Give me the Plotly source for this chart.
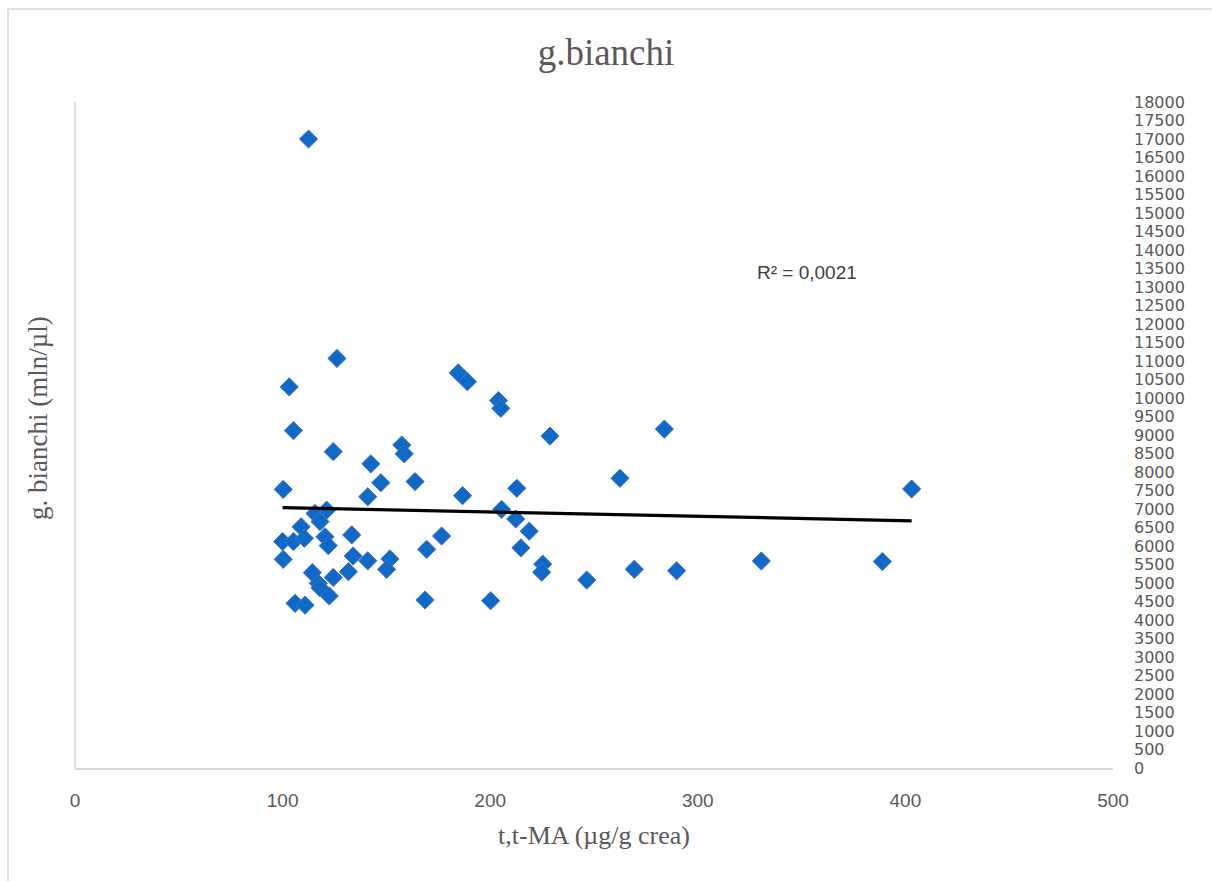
import numpy as np
import plotly.graph_objects as go

# t,t-MA (µg/g crea) vs white blood cells (g. bianchi, mln/µl)
tt_ma = [
    112.5, 126.2, 103.2, 105.2, 124.4, 142.5, 184.6, 189.0, 157.4, 158.6,
    147.3, 163.8, 141.0, 186.7, 176.6, 169.4, 141.0, 151.7, 150.1, 168.6,
    204.0, 205.1, 228.8, 212.8, 205.5, 212.3, 218.8, 214.8, 225.3, 224.8,
    200.2, 283.9, 262.5, 403.0, 269.4, 289.8, 330.6, 388.9, 246.5,
    100.3, 121.2, 115.6, 118.0, 108.9, 133.3, 100.0, 105.2, 110.5, 120.4,
    122.0, 100.3, 134.0, 131.7, 114.3, 124.4, 117.2, 118.0, 122.5, 106.0,
    110.8,
]
g_bianchi = [
    17000, 11070, 10300, 9120, 8550, 8220, 10680, 10440, 8730, 8490,
    7710, 7740, 7330, 7360, 6270, 5910, 5600, 5650, 5370, 4540,
    9930, 9720, 8970, 7560, 6990, 6730, 6400, 5950, 5510, 5290,
    4520, 9160, 7830, 7540, 5370, 5330, 5595, 5580, 5080,
    7530, 6970, 6880, 6660, 6520, 6300, 6120, 6120, 6210, 6250,
    6010, 5640, 5730, 5305, 5280, 5150, 4990, 4870, 4650, 4450,
    4400,
]

x_ticks = [0, 100, 200, 300, 400, 500]
y_ticks = list(range(0, 18001, 500))
y_tick_text = [str(v) for v in y_ticks]
r2_label = "R² = 0,0021"

x_arr = np.array(tt_ma, dtype=float)
y_arr = np.array(g_bianchi, dtype=float)
slope, intercept = np.polyfit(x_arr, y_arr, 1)
trend_x = np.array([x_arr.min(), x_arr.max()])
trend_y = slope * trend_x + intercept

W, H = 1212, 881
ml, mr, mt, mb = 75, 99, 102, 113
pw, ph = W - ml - mr, H - mt - mb

def px_to_paper_x(px):
    return (px - ml) / pw

def px_to_paper_y(py):
    return (H - mb - py) / ph

grey_text = "#595959"
axis_grey = "#d9d9d9"

fig = go.Figure()
fig.add_trace(go.Scatter(
    x=tt_ma, y=g_bianchi, mode="markers",
    marker=dict(symbol="diamond", size=14, color="#0F69C7",
                line=dict(color="#4472C4", width=1)),
    showlegend=False, hoverinfo="x+y",
))
fig.add_trace(go.Scatter(
    x=trend_x, y=trend_y, mode="lines",
    line=dict(color="#000000", width=3.2),
    showlegend=False, hoverinfo="skip",
))

fig.update_layout(
    width=W, height=H,
    margin=dict(l=ml, r=mr, t=mt, b=mb),
    paper_bgcolor="white", plot_bgcolor="white",
    title=dict(text="g.bianchi", x=0.5, xanchor="center", y=1 - 52 / H, yanchor="middle",
               font=dict(family="Liberation Serif", size=37, color=grey_text)),
    xaxis=dict(
        range=[0, 500], tickvals=x_ticks, showgrid=False, zeroline=False,
        showline=True, linecolor=axis_grey, linewidth=1.5,
        ticks="", ticklabelstandoff=14,
        tickfont=dict(family="Liberation Sans", size=19, color=grey_text),
        title=dict(text="t,t-MA (µg/g crea)", standoff=16,
                   font=dict(family="Liberation Serif", size=26, color=grey_text)),
    ),
    yaxis=dict(
        range=[0, 18000], tickvals=y_ticks, ticktext=y_tick_text, side="right",
        showgrid=False, zeroline=False, showline=False, ticks="", ticklabelstandoff=20,
        tickfont=dict(family="DejaVu Sans", size=16, color=grey_text),
    ),
    font=dict(family="Liberation Sans", color=grey_text),
)

# left vertical axis line
fig.add_shape(type="line", xref="paper", yref="paper", x0=0, x1=0, y0=0, y1=1,
              line=dict(color=axis_grey, width=1.5))

# outer chart border
fig.add_shape(type="rect", xref="paper", yref="paper",
              x0=px_to_paper_x(8), x1=px_to_paper_x(W + 5),
              y0=px_to_paper_y(H + 5), y1=px_to_paper_y(9),
              line=dict(color=axis_grey, width=1.5), fillcolor="rgba(0,0,0,0)", layer="below")

# vertical y-axis title on the left
fig.add_annotation(text="g. bianchi (mln/µl)", xref="paper", yref="paper",
                   x=px_to_paper_x(38), y=px_to_paper_y(418), textangle=-90,
                   showarrow=False, xanchor="center", yanchor="middle",
                   font=dict(family="Liberation Serif", size=27, color=grey_text))

fig.add_annotation(text=r2_label, xref="paper", yref="paper",
                   x=px_to_paper_x(807), y=px_to_paper_y(272),
                   showarrow=False, xanchor="center", yanchor="middle",
                   font=dict(family="Liberation Sans", size=19, color="#404040"))

fig.write_html("out.html")
